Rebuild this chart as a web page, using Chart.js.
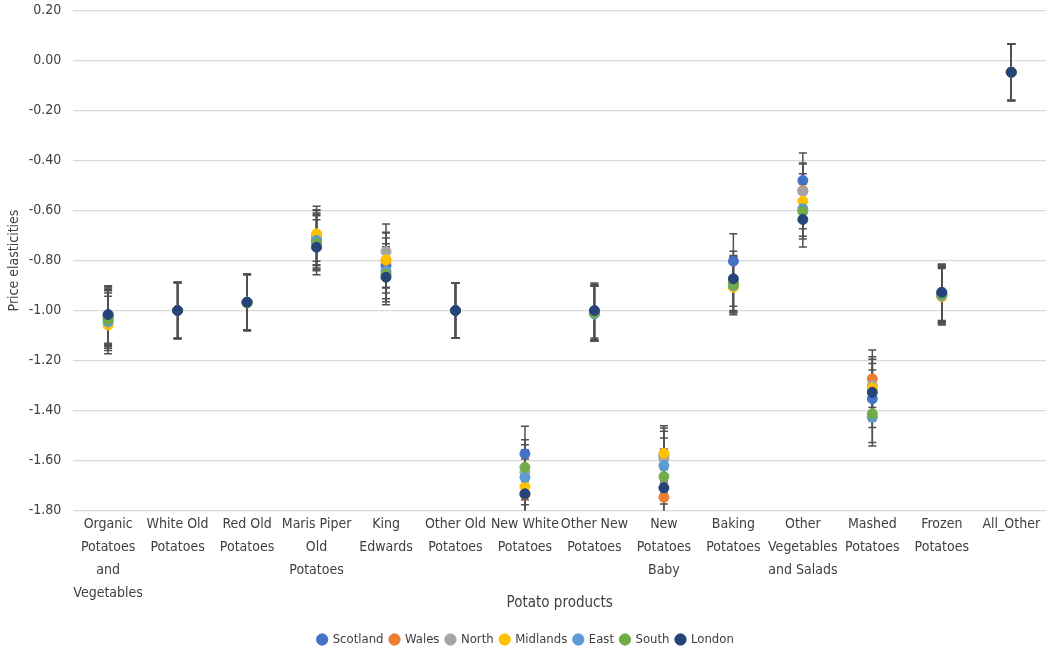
<!DOCTYPE html>
<html lang="en">
<head>
    <meta charset="UTF-8">
    <title>Price elasticities of potato products</title>
    <style>
        body {
            margin: 0;
            padding: 0;
            background-color: #fff;
        }
        .chart-container {
            width: 1052px;
            height: 648px;
        }
    </style>
    <script src="https://cdn.jsdelivr.net/npm/chart.js"></script>
</head>
<body>

    <div class="chart-container">
        <canvas id="elasticityChart"></canvas>
    </div>

    <script>
        // Categories (multi-line labels as in the original)
        const categories = [
            ['Organic', 'Potatoes', 'and', 'Vegetables'],
            ['White Old', 'Potatoes'],
            ['Red Old', 'Potatoes'],
            ['Maris Piper', 'Old', 'Potatoes'],
            ['King', 'Edwards'],
            ['Other Old', 'Potatoes'],
            ['New White', 'Potatoes'],
            ['Other New', 'Potatoes'],
            ['New', 'Potatoes', 'Baby'],
            ['Baking', 'Potatoes'],
            ['Other', 'Vegetables', 'and Salads'],
            ['Mashed', 'Potatoes'],
            ['Frozen', 'Potatoes'],
            ['All_Other']
        ];

        // Elasticity estimates per region
        const scotland = [-1.020, -1.000, -0.967, -0.725, -0.820, -1.000, -1.573, -1.010, -1.580, -0.803, -0.480, -1.353, -0.930, -0.047];
        const wales    = [-1.030, -1.000, -0.967, -0.707, -0.800, -1.000, -1.735, -1.005, -1.747, -0.890, -0.520, -1.273, -0.940, -0.047];
        const north    = [-1.025, -1.000, -0.967, -0.710, -0.764, -1.000, -1.647, -1.013, -1.593, -0.895, -0.524, -1.300, -0.935, -0.047];
        const midlands = [-1.058, -1.000, -0.967, -0.693, -0.797, -1.000, -1.704, -1.010, -1.571, -0.907, -0.563, -1.310, -0.945, -0.047];
        const east     = [-1.045, -1.000, -0.967, -0.720, -0.843, -1.000, -1.667, -1.013, -1.620, -0.900, -0.593, -1.427, -0.940, -0.047];
        const south    = [-1.036, -1.000, -0.970, -0.731, -0.855, -1.000, -1.627, -1.010, -1.664, -0.896, -0.604, -1.413, -0.935, -0.047];
        const london   = [-1.016, -1.000, -0.967, -0.747, -0.867, -1.000, -1.733, -1.000, -1.709, -0.873, -0.636, -1.327, -0.927, -0.047];

        // Half-width of the confidence interval for each product
        const errorMargins = [0.115, 0.112, 0.112, 0.110, 0.110, 0.110, 0.110, 0.110, 0.110, 0.110, 0.110, 0.115, 0.113, 0.113];

        const regions = ['Scotland', 'Wales', 'North', 'Midlands', 'East', 'South', 'London'];
        const regionValues = [scotland, wales, north, midlands, east, south, london];
        const regionColors = ['#4472C4', '#ED7D31', '#A5A5A5', '#FFC000', '#5B9BD5', '#70AD47', '#264478'];

        const fontFamily = "'Liberation Sans Narrow', 'DejaVu Sans Condensed', 'Liberation Sans', sans-serif";

        // Draws the error bars (vertical line + caps) under the markers
        const errorBarsPlugin = {
            id: 'errorBars',
            beforeDatasetsDraw(chart) {
                const ctx = chart.ctx;
                const area = chart.chartArea;
                const yScale = chart.scales.y;
                ctx.save();
                ctx.beginPath();
                ctx.rect(area.left, area.top, area.right - area.left, area.bottom - area.top);
                ctx.clip();
                ctx.strokeStyle = '#505050';
                ctx.lineWidth = 1.5;
                chart.data.datasets.forEach((ds, i) => {
                    const meta = chart.getDatasetMeta(i);
                    meta.data.forEach((pt, j) => {
                        const v = ds.data[j];
                        const m = errorMargins[j];
                        const yTop = yScale.getPixelForValue(v + m);
                        const yBot = yScale.getPixelForValue(v - m);
                        const x = pt.x;
                        ctx.beginPath();
                        ctx.moveTo(x, yTop);
                        ctx.lineTo(x, yBot);
                        ctx.moveTo(x - 4, yTop);
                        ctx.lineTo(x + 4, yTop);
                        ctx.moveTo(x - 4, yBot);
                        ctx.lineTo(x + 4, yBot);
                        ctx.stroke();
                    });
                });
                ctx.restore();
            }
        };

        const ctx = document.getElementById('elasticityChart').getContext('2d');
        const elasticityChart = new Chart(ctx, {
            type: 'line',
            data: {
                labels: categories,
                datasets: regions.map((name, i) => ({
                    label: name,
                    data: regionValues[i],
                    order: regions.length - i, // London drawn last, on top
                    showLine: false,
                    backgroundColor: regionColors[i],
                    borderColor: regionColors[i],
                    pointRadius: 5,
                    pointHoverRadius: 5,
                    pointBorderWidth: 1
                }))
            },
            options: {
                responsive: true,
                maintainAspectRatio: false,
                animation: false,
                layout: {
                    padding: { top: 0, right: 6, left: 6, bottom: -8 }
                },
                plugins: {
                    legend: {
                        position: 'bottom',
                        labels: {
                            usePointStyle: true,
                            pointStyle: 'circle',
                            boxWidth: 8,
                            boxHeight: 8,
                            padding: 7,
                            color: '#404040',
                            font: { family: fontFamily, size: 13 },
                            sort: (a, b) => a.datasetIndex - b.datasetIndex
                        }
                    },
                    tooltip: { enabled: false }
                },
                scales: {
                    x: {
                        offset: true,
                        grid: { display: false, offset: true, drawTicks: false },
                        border: { display: false },
                        ticks: {
                            autoSkip: false,
                            maxRotation: 0,
                            color: '#404040',
                            padding: 2,
                            font: { family: fontFamily, size: 14, lineHeight: 1.65 }
                        },
                        title: {
                            display: true,
                            text: 'Potato products',
                            color: '#404040',
                            padding: { top: -13, bottom: 14 },
                            font: { family: fontFamily, size: 15 }
                        }
                    },
                    y: {
                        min: -1.8,
                        max: 0.2,
                        border: { display: false },
                        grid: {
                            color: '#D9D9D9',
                            lineWidth: 1.2,
                            drawTicks: true,
                            tickLength: 10,
                            tickColor: 'rgba(0,0,0,0)'
                        },
                        ticks: {
                            stepSize: 0.2,
                            padding: 2,
                            color: '#404040',
                            font: { family: fontFamily, size: 14 },
                            callback: value => value.toFixed(2)
                        },
                        title: {
                            display: true,
                            text: 'Price elasticities',
                            color: '#404040',
                            padding: { top: 0, bottom: 4 },
                            font: { family: fontFamily, size: 14 }
                        }
                    }
                }
            },
            plugins: [errorBarsPlugin]
        });
    </script>

</body>
</html>
